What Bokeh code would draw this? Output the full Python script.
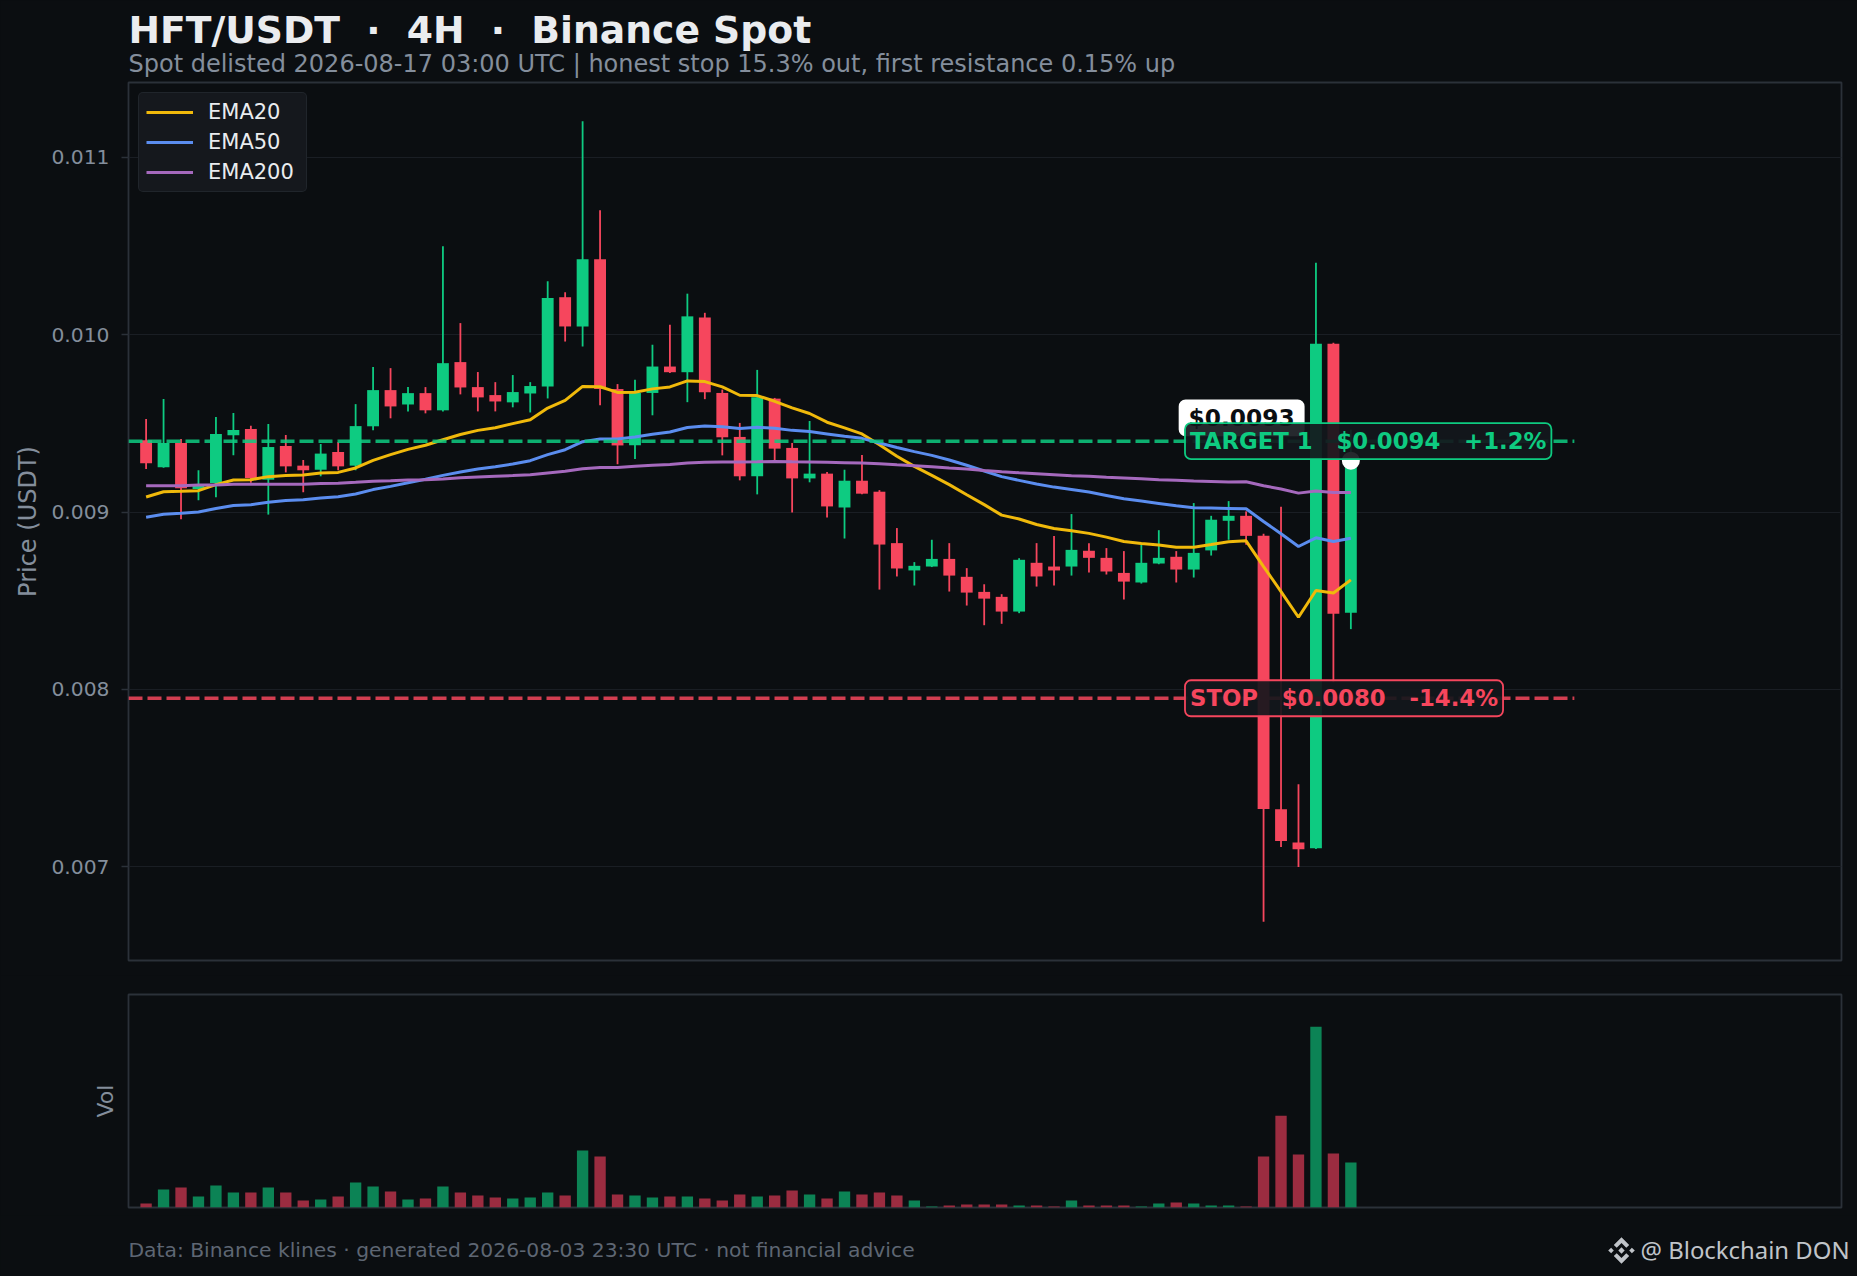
from bokeh.plotting import figure
from bokeh.layouts import column
from bokeh.embed import file_html
from bokeh.resources import INLINE
from bokeh.models import (Range1d, FixedTicker, NumeralTickFormatter, Legend, LegendItem, Label,
                          Title, ColumnDataSource)
from bokeh.core.properties import value

# ---- data (prices in milli-USDT) ----
opens = [9.405,9.253,9.390,9.130,9.164,9.433,9.469,9.183,9.373,9.262,9.239,9.339,9.262,9.484,9.688,9.607,9.671,9.574,9.846,9.705,
         9.660,9.619,9.669,9.709,10.212,10.047,10.426,9.694,9.377,9.672,9.821,9.789,10.098,9.672,9.424,9.202,9.640,9.362,9.190,9.217,
         9.026,9.177,9.115,8.825,8.671,8.693,8.736,8.635,8.550,8.522,8.439,8.714,8.693,8.693,8.782,8.742,8.657,8.603,8.710,8.748,
         8.676,8.784,8.951,8.979,8.866,7.324,7.137,7.104,9.950,8.433]
highs = [9.525,9.638,9.412,9.236,9.536,9.559,9.487,9.497,9.435,9.294,9.384,9.395,9.609,9.818,9.812,9.705,9.705,10.500,10.066,9.790,
         9.733,9.773,9.733,10.302,10.240,11.204,10.702,9.722,9.746,9.944,10.056,10.232,10.124,9.691,9.503,9.802,9.644,9.390,9.514,9.226,
         9.239,9.322,9.124,8.910,8.718,8.844,8.825,8.684,8.593,8.537,8.740,8.825,8.865,8.989,8.825,8.797,8.780,8.816,8.898,8.780,
         9.051,8.979,9.062,9.004,8.878,9.030,7.465,10.407,9.955,9.465]
lows = [9.243,9.250,8.960,9.067,9.084,9.320,9.166,8.986,9.224,9.112,9.202,9.236,9.236,9.461,9.529,9.568,9.557,9.568,9.664,9.568,
        9.568,9.591,9.562,9.641,9.962,9.934,9.602,9.270,9.300,9.546,9.785,9.620,9.637,9.320,9.179,9.100,9.292,8.998,9.168,8.970,
        8.851,9.100,8.563,8.637,8.586,8.690,8.552,8.473,8.362,8.370,8.430,8.580,8.586,8.642,8.659,8.648,8.507,8.597,8.706,8.603,
        8.631,8.755,8.844,8.816,6.690,7.111,6.998,7.100,8.040,8.340]
closes = [9.275,9.390,9.134,9.150,9.440,9.463,9.192,9.367,9.258,9.236,9.330,9.258,9.485,9.688,9.596,9.671,9.574,9.840,9.703,9.647,
          9.624,9.677,9.711,10.207,10.047,10.426,9.694,9.376,9.672,9.821,9.789,10.104,9.676,9.422,9.202,9.648,9.358,9.190,9.217,9.032,
          9.177,9.104,8.817,8.682,8.697,8.736,8.642,8.546,8.512,8.439,8.731,8.637,8.671,8.787,8.742,8.665,8.608,8.714,8.742,8.676,
          8.770,8.957,8.979,8.866,7.326,7.145,7.098,9.950,8.427,9.286]
ema20 = [9.085,9.115,9.117,9.121,9.155,9.181,9.183,9.200,9.206,9.209,9.221,9.224,9.249,9.292,9.324,9.354,9.377,9.408,9.438,9.461,
         9.476,9.499,9.521,9.587,9.630,9.709,9.707,9.675,9.676,9.695,9.706,9.740,9.736,9.706,9.659,9.657,9.625,9.588,9.556,9.507,
         9.475,9.441,9.380,9.315,9.258,9.207,9.155,9.098,9.042,8.983,8.961,8.930,8.908,8.895,8.880,8.859,8.834,8.823,8.814,8.802,
         8.802,8.817,8.833,8.838,8.693,8.552,8.407,8.558,8.544,8.618]
ema50 = [8.971,8.988,8.993,9.001,9.020,9.037,9.042,9.055,9.065,9.070,9.080,9.087,9.102,9.127,9.145,9.166,9.185,9.207,9.226,9.243,
         9.256,9.271,9.290,9.324,9.352,9.397,9.412,9.412,9.424,9.439,9.452,9.477,9.486,9.482,9.471,9.478,9.473,9.461,9.454,9.441,
         9.428,9.416,9.390,9.364,9.341,9.320,9.294,9.264,9.232,9.200,9.179,9.158,9.141,9.128,9.113,9.094,9.075,9.062,9.049,9.036,
         9.025,9.023,9.021,9.019,8.947,8.878,8.806,8.855,8.834,8.853]
ema200 = [9.149,9.149,9.149,9.153,9.153,9.157,9.157,9.157,9.157,9.157,9.162,9.163,9.168,9.174,9.177,9.181,9.183,9.187,9.194,9.198,
          9.202,9.206,9.211,9.221,9.230,9.245,9.251,9.251,9.258,9.264,9.269,9.277,9.281,9.283,9.283,9.284,9.286,9.284,9.283,9.281,
          9.279,9.277,9.273,9.267,9.262,9.256,9.249,9.243,9.235,9.228,9.222,9.217,9.211,9.205,9.202,9.196,9.192,9.188,9.183,9.179,
          9.175,9.173,9.170,9.171,9.149,9.130,9.107,9.119,9.111,9.111]
volumes = [12,54,60,33,66,45,45,60,45,21,24,33,75,63,48,24,27,63,45,36,30,27,30,45,36,171,153,39,36,30,33,33,27,21,39,33,36,51,39,27,
           48,39,45,36,21,3,6,9,9,9,6,6,3,21,6,6,6,3,12,15,12,6,6,3,153,276,159,543,162,135]
target_price = 9.40
stop_price = 7.95
last_price = 9.29
price_ticks = [0.007, 0.008, 0.009, 0.010, 0.011]

TITLE = "HFT/USDT \u00a0·\u00a0 4H \u00a0·\u00a0 Binance Spot"
SUBTITLE = "Spot delisted 2026-08-17 03:00 UTC | honest stop 15.3% out, first resistance 0.15% up"
FOOTER = "Data: Binance klines · generated 2026-08-03 23:30 UTC · not financial advice"
WATERMARK = "@ Blockchain DON"
TARGET_LABEL = "TARGET 1 \u00a0 $0.0094 \u00a0 +1.2%"
STOP_LABEL = "STOP \u00a0 $0.0080 \u00a0 -14.4%"
PRICE_LABEL = "$0.0093"

BG = "#0b0e11"; GRID = "#1a1e24"; SPINE = "#2b3139"; MUTED = "#848e9c"; LIGHT = "#eaecef"
UP = "#0ecb81"; DOWN = "#f6465d"; VUP = "#0c8355"; VDOWN = "#9b2c40"
C20 = "#f0b90b"; C50 = "#5b8def"; C200 = "#a569bd"
FONT = "DejaVu Sans"

m = 1e-3
idx = list(range(len(opens)))
up = [c >= o for o, c in zip(opens, closes)]
src = ColumnDataSource(dict(
    x=idx,
    top=[max(o, c) * m for o, c in zip(opens, closes)],
    bot=[min(o, c) * m for o, c in zip(opens, closes)],
    hi=[v * m for v in highs],
    lo=[v * m for v in lows],
    col=[UP if u else DOWN for u in up],
    vol=volumes,
    vcol=[VUP if u else VDOWN for u in up],
))

xr = Range1d(-1.008, 97.1)
p = figure(width=1857, height=975, x_range=xr, y_range=Range1d(6.471 * m, 11.423 * m),
           output_backend="svg", toolbar_location=None, tools="",
           min_border_left=128, min_border_right=16, min_border_top=82, min_border_bottom=15,
           background_fill_color=BG, border_fill_color=BG, outline_line_color=SPINE, outline_line_width=1.8)
p.xaxis.visible = False
p.xgrid.visible = False
p.ygrid.grid_line_color = GRID
p.ygrid.grid_line_width = 1.2
ya = p.yaxis[0]
ya.ticker = FixedTicker(ticks=price_ticks)
ya.formatter = NumeralTickFormatter(format="0.000")
ya.axis_line_color = None
ya.major_tick_line_color = SPINE
ya.major_tick_line_width = 1.3
ya.major_tick_in = 0
ya.major_tick_out = 7
ya.minor_tick_line_color = None
ya.major_label_text_color = MUTED
ya.major_label_text_font = FONT
ya.major_label_text_font_size = "20.3px"
ya.major_label_standoff = 12
ya.axis_label = "Price (USDT)"
ya.axis_label_text_color = MUTED
ya.axis_label_text_font = FONT
ya.axis_label_text_font_style = "normal"
ya.axis_label_text_font_size = "24px"
ya.axis_label_standoff = 6

p.add_layout(Title(text=SUBTITLE, text_color=MUTED, text_font=FONT, text_font_size="24px",
                   text_font_style="normal", standoff=10, offset=0), "above")
p.add_layout(Title(text=TITLE, text_color=LIGHT, text_font=FONT, text_font_size="37.7px",
                   text_font_style="bold", standoff=-19, offset=0), "above")

p.segment("x", "hi", "x", "lo", source=src, line_color="col", line_width=1.8)
p.vbar("x", 0.68, "bot", "top", source=src, fill_color="col", line_color=None)

r20 = p.line(idx, [v * m for v in ema20], line_color=C20, line_width=3)
r50 = p.line(idx, [v * m for v in ema50], line_color=C50, line_width=3)
r200 = p.line(idx, [v * m for v in ema200], line_color=C200, line_width=3)

p.segment([-1.008], [target_price * m], [81.8], [target_price * m], line_color=UP, line_alpha=0.85,
          line_width=3.4, line_dash="14 5")
p.segment([-1.008], [stop_price * m], [81.8], [stop_price * m], line_color=DOWN, line_alpha=0.85,
          line_width=3.4, line_dash="14 5")
p.scatter([idx[-1]], [last_price * m], size=18, fill_color="#ffffff", line_color=None)

legend = Legend(items=[LegendItem(label="EMA20", renderers=[r20]),
                       LegendItem(label="EMA50", renderers=[r50]),
                       LegendItem(label="EMA200", renderers=[r200])],
                location=(10, 768), orientation="vertical",
                label_text_color=LIGHT, label_text_font=FONT, label_text_font_size="21px",
                glyph_width=47, glyph_height=20, label_height=20, label_width=91, label_standoff=15, spacing=6,
                padding=7, margin=0, background_fill_color="#15181d", background_fill_alpha=1,
                border_line_color=SPINE, border_line_width=1.5)
if "border_radius" in Legend.properties():
    legend.border_radius = 5
p.add_layout(legend)

def tag(text, x, y, color, fill, border, alpha=0.92, size="22.8px", pad=(5, 5)):
    # padding is (horizontal, vertical)
    lb = Label(x=x, y=y * m, text=text, text_color=color, text_font=FONT, text_font_size=size,
               text_font_style="bold", text_align="left", text_baseline="middle",
               background_fill_color=fill, background_fill_alpha=alpha,
               border_line_color=border, border_line_width=1.8, padding=pad, border_radius=6)
    p.add_layout(lb)

tag(PRICE_LABEL, 59.19, 9.531, "#0b0e11", "#ffffff", "#ffffff", alpha=1, size="23.3px", pad=(9, 4))
tag(TARGET_LABEL, 59.5, target_price, UP, "#14171c", UP)
tag(STOP_LABEL, 59.5, stop_price, DOWN, "#14171c", DOWN)

v = figure(width=1857, height=240, x_range=xr, y_range=Range1d(0, 640),
           output_backend="svg", toolbar_location=None, tools="",
           min_border_left=128, min_border_right=16, min_border_top=19, min_border_bottom=8,
           background_fill_color=BG, border_fill_color=BG, outline_line_color=SPINE, outline_line_width=1.8)
v.xaxis.visible = False
v.grid.visible = False
va = v.yaxis[0]
va.ticker = FixedTicker(ticks=[])
va.axis_line_color = None
va.major_tick_line_color = None
va.minor_tick_line_color = None
va.axis_label = "Vol"
va.axis_label_text_color = MUTED
va.axis_label_text_font = FONT
va.axis_label_text_font_style = "normal"
va.axis_label_text_font_size = "22px"
va.axis_label_standoff = 11
v.vbar("x", 0.65, 0, "vol", source=src, fill_color="vcol", line_color=None)

# footer strip: a separate root so that its frame spans the whole page width; ranges in page pixels
f = figure(width=1857, height=61, x_range=Range1d(0, 1857), y_range=Range1d(1276, 1215),
           x_axis_type=None, y_axis_type=None, output_backend="svg", toolbar_location=None, tools="",
           min_border=0, background_fill_color=BG, border_fill_color=BG, outline_line_color=None)
f.grid.visible = False
f.text([128], [1249], text=[FOOTER], text_color="#5e6673", text_font=value(FONT), text_font_size="20.3px",
       text_baseline="middle", text_align="left")
f.text([1640], [1249], text=[WATERMARK], text_color="#c0c4c9", text_font=value("Noto Sans"), text_font_size="23.9px",
       text_baseline="middle", text_align="left")
cx, cy, R = 1621.0, 1250.0, 13.3
shapes = [
    [(0, .24), (.24, 0), (0, -.24), (-.24, 0)],
    [(-.78, .2), (-.58, 0), (-.78, -.2), (-1, 0)],
    [(.78, .2), (1, 0), (.78, -.2), (.58, 0)],
    [(0, 1), (.58, .42), (.36, .2), (0, .56), (-.36, .2), (-.58, .42)],
    [(0, -1), (.58, -.42), (.36, -.2), (0, -.56), (-.36, -.2), (-.58, -.42)],
]
f.patches([[cx + R * a for a, b in s] for s in shapes], [[cy + R * b for a, b in s] for s in shapes],
          fill_color="#c0c4c9", line_color=None)

html = file_html([column(p, v, spacing=0), f], INLINE)
html = html.replace("</head>", "<style>html,body{background:#0b0e11;margin:0;overflow:hidden}</style></head>")
open("out.html", "w").write(html)
